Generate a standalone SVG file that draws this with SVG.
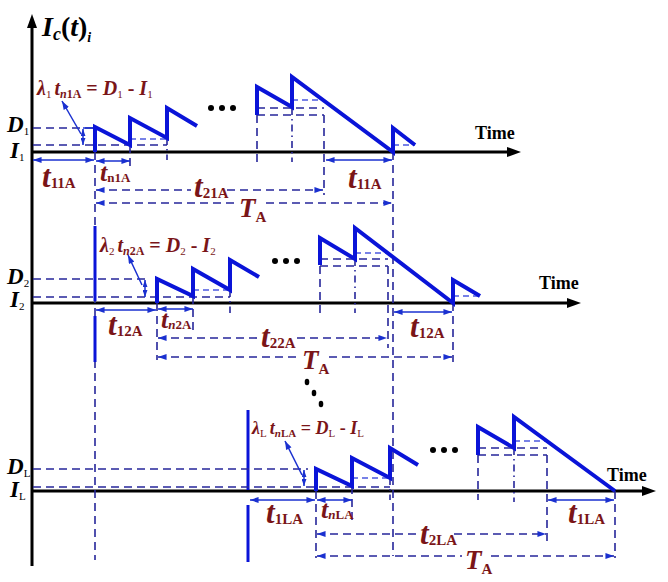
<svg xmlns="http://www.w3.org/2000/svg" width="668" height="582" viewBox="0 0 668 582">
<defs>
<style>
.ax{stroke:#000;stroke-width:3;fill:none}
.w{stroke:#0a14d8;stroke-width:4;fill:none;stroke-linejoin:miter}
.d{stroke:#26269a;stroke-width:1.6;stroke-dasharray:8 5;fill:none}
.dl{stroke:#4c5ae0;stroke-width:1.4;stroke-dasharray:6 4;fill:none}
.dd{stroke:#26269a;stroke-width:1.6;stroke-dasharray:7 4 1.5 4;fill:none}
.m{stroke:#1a30d0;stroke-width:1.5;fill:none}
.bar{stroke:#0a14d8;stroke-width:3;fill:none}
text{font-family:"Liberation Serif","Times New Roman",serif;font-weight:bold}
.r{fill:#7a1518}
.k{fill:#000}
.bi{font-style:italic}
.big{font-size:31px;font-style:italic}
.bigT{font-size:27px;font-style:italic}
.sb{font-size:15px;font-style:normal}
.mid{font-size:26px;font-style:italic}
.lab{font-size:23px;font-style:italic}
.sm{font-size:13px;font-style:normal}
.eq{font-size:20px}
.eqs{font-size:11px;font-weight:normal;font-style:normal}
.eqs2{font-size:12px;font-style:normal}
.time{font-size:18px}
.dot{fill:#000}
</style>
<marker id="ah" viewBox="0 0 10 7" refX="10" refY="3.5" markerWidth="9" markerHeight="6" markerUnits="userSpaceOnUse" orient="auto-start-reverse"><path d="M0,0 L10,3.5 L0,7 z" fill="#1a30d0"/></marker>
<marker id="sh" viewBox="0 0 10 7" refX="10" refY="3.5" markerWidth="7" markerHeight="5" markerUnits="userSpaceOnUse" orient="auto-start-reverse"><path d="M0,0 L10,3.5 L0,7 z" fill="#1a30d0"/></marker>
<marker id="axh" viewBox="0 0 14 10" refX="1" refY="5" markerWidth="15" markerHeight="10" markerUnits="userSpaceOnUse" orient="auto"><path d="M0,0 L14,5 L0,10 z" fill="#000"/></marker>
</defs>
<rect width="668" height="582" fill="#fff"/>

<g id="axes">
<line class="ax" x1="32" y1="566" x2="32" y2="27" marker-end="url(#axh)"/>
<line class="ax" x1="32" y1="152" x2="508" y2="152" marker-end="url(#axh)"/>
<line class="ax" x1="32" y1="303" x2="568" y2="303" marker-end="url(#axh)"/>
<line class="ax" x1="32" y1="491" x2="643" y2="491" marker-end="url(#axh)"/>
<text class="k" x="42" y="36" font-size="28" font-style="italic">I<tspan font-size="18" dy="4">c</tspan><tspan dy="-4" font-style="normal">(</tspan>t<tspan font-style="normal">)</tspan><tspan font-size="14" dy="6">i</tspan></text>
<text class="k time" x="475" y="139">Time</text>
<text class="k time" x="539" y="289">Time</text>
<text class="k time" x="607" y="481">Time</text>
</g>

<g id="connectors">
<line class="d" x1="95" y1="152" x2="95" y2="560"/>
<line class="d" x1="393" y1="152" x2="393" y2="556"/>
<line class="bar" x1="95" y1="226" x2="95" y2="301"/>
<line class="bar" x1="95" y1="316" x2="95" y2="362"/>
<line class="bar" x1="248" y1="410" x2="248" y2="490"/>
<line class="bar" x1="248" y1="505" x2="248" y2="562"/>
</g>

<g id="section1">
<line class="d" x1="33" y1="128" x2="93" y2="128"/>
<line class="d" x1="33" y1="145" x2="167" y2="145"/>
<line class="dl" x1="130" y1="139" x2="167" y2="139"/>
<line class="d" x1="130" y1="145" x2="130" y2="166"/>
<line class="dd" x1="167" y1="138" x2="167" y2="160"/>
<line class="d" x1="257" y1="108" x2="324" y2="108"/>
<line class="d" x1="257" y1="115" x2="324" y2="115"/>
<line class="dl" x1="292" y1="100" x2="324" y2="100"/>
<line class="d" x1="257" y1="115" x2="257" y2="162"/>
<line class="dd" x1="292" y1="108" x2="292" y2="162"/>
<line class="d" x1="324" y1="115" x2="324" y2="195"/>
<line class="dl" x1="393" y1="145" x2="415" y2="145"/>
<path class="w" d="M95,152 V127 L130,145 V118 L167,138 V108 L197,126"/>
<path class="w" d="M257,115 V87 L292,107 V77 L393,152 V128 L415,145"/>
<line class="m" x1="83" y1="129" x2="83" y2="145" marker-start="url(#sh)" marker-end="url(#sh)"/>
<line class="m" x1="83" y1="128" x2="93" y2="128"/>
<line class="m" x1="81" y1="134" x2="62" y2="101" marker-end="url(#ah)"/>
<circle class="dot" cx="211" cy="108" r="3"/><circle class="dot" cx="222" cy="108" r="3"/><circle class="dot" cx="233" cy="108" r="3"/>
<line class="m" x1="33" y1="160" x2="94" y2="160" marker-start="url(#ah)" marker-end="url(#ah)"/>
<line class="m" x1="96" y1="161" x2="130" y2="161" marker-start="url(#ah)" marker-end="url(#ah)"/>
<line class="d" x1="96" y1="190" x2="191" y2="190" marker-start="url(#ah)"/>
<line class="d" x1="227" y1="190" x2="323" y2="190" marker-end="url(#ah)"/>
<line class="d" x1="96" y1="203" x2="236" y2="203" marker-start="url(#ah)"/>
<line class="d" x1="266" y1="203" x2="392" y2="203" marker-end="url(#ah)"/>
<line class="m" x1="326" y1="160" x2="392" y2="160" marker-start="url(#ah)" marker-end="url(#ah)"/>
<text class="k lab" x="7" y="132">D<tspan class="eqs" font-size="12" dy="3">1</tspan></text>
<text class="k lab" x="10" y="158">I<tspan class="eqs" font-size="12" dy="3">1</tspan></text>
<text class="r eq" x="37" y="95"><tspan class="bi">λ</tspan><tspan class="eqs" dy="3">1</tspan><tspan class="bi" dy="-3" dx="3">t</tspan><tspan class="eqs2" dy="3"><tspan font-style="italic">n</tspan>1A</tspan><tspan dy="-3"> = </tspan><tspan class="bi">D</tspan><tspan class="eqs" dy="3">1</tspan><tspan dy="-3"> - </tspan><tspan class="bi">I</tspan><tspan class="eqs" dy="3">1</tspan></text>
<text class="r" x="42" y="187"><tspan class="big">t</tspan><tspan class="sb" dy="1">11A</tspan></text>
<text class="r" x="100" y="181"><tspan class="mid">t</tspan><tspan class="sm" dy="1">n1A</tspan></text>
<text class="r" x="194" y="197"><tspan class="big">t</tspan><tspan class="sb" dy="1">21A</tspan></text>
<text class="r" x="239" y="217"><tspan class="bigT">T</tspan><tspan class="sb" dy="5">A</tspan></text>
<text class="r" x="348" y="188"><tspan class="big">t</tspan><tspan class="sb" dy="1">11A</tspan></text>
</g>

<g id="section2">
<line class="d" x1="33" y1="279" x2="147" y2="279"/>
<line class="d" x1="33" y1="297" x2="230" y2="297"/>
<line class="dl" x1="193" y1="290" x2="230" y2="290"/>
<line class="d" x1="193" y1="296" x2="193" y2="332"/>
<line class="dd" x1="230" y1="290" x2="230" y2="313"/>
<line class="d" x1="157" y1="303" x2="157" y2="360"/>
<line class="d" x1="320" y1="259" x2="388" y2="259"/>
<line class="d" x1="320" y1="266" x2="388" y2="266"/>
<line class="dl" x1="355" y1="253" x2="388" y2="253"/>
<line class="d" x1="320" y1="266" x2="320" y2="313"/>
<line class="dd" x1="355" y1="259" x2="355" y2="313"/>
<line class="d" x1="388" y1="266" x2="388" y2="348"/>
<line class="d" x1="453" y1="303" x2="453" y2="362"/>
<line class="dl" x1="453" y1="296" x2="480" y2="296"/>
<path class="w" d="M157,303 V279 L193,296 V269 L230,290 V260 L259,277"/>
<path class="w" d="M320,265 V238 L355,259 V228 L453,303 V280 L480,296"/>
<line class="m" x1="145" y1="280" x2="145" y2="297" marker-start="url(#sh)" marker-end="url(#sh)"/>
<line class="m" x1="142" y1="285" x2="128" y2="255" marker-end="url(#ah)"/>
<circle class="dot" cx="275" cy="261" r="3"/><circle class="dot" cx="286" cy="261" r="3"/><circle class="dot" cx="297" cy="261" r="3"/>
<line class="m" x1="96" y1="310" x2="156" y2="310" marker-start="url(#ah)" marker-end="url(#ah)"/>
<line class="m" x1="158" y1="309" x2="193" y2="309" marker-start="url(#ah)" marker-end="url(#ah)"/>
<line class="d" x1="158" y1="338" x2="258" y2="338" marker-start="url(#ah)"/>
<line class="d" x1="297" y1="338" x2="387" y2="338" marker-end="url(#ah)"/>
<line class="d" x1="158" y1="357" x2="299" y2="357" marker-start="url(#ah)"/>
<line class="d" x1="329" y1="357" x2="452" y2="357" marker-end="url(#ah)"/>
<line class="m" x1="394" y1="312" x2="452" y2="312" marker-start="url(#ah)" marker-end="url(#ah)"/>
<text class="k lab" x="7" y="284">D<tspan class="eqs" font-size="12" dy="3">2</tspan></text>
<text class="k lab" x="10" y="307">I<tspan class="eqs" font-size="12" dy="3">2</tspan></text>
<text class="r eq" x="100" y="252"><tspan class="bi">λ</tspan><tspan class="eqs" dy="3">2</tspan><tspan class="bi" dy="-3" dx="3">t</tspan><tspan class="eqs2" dy="3"><tspan font-style="italic">n</tspan>2A</tspan><tspan dy="-3"> = </tspan><tspan class="bi">D</tspan><tspan class="eqs" dy="3">2</tspan><tspan dy="-3"> - </tspan><tspan class="bi">I</tspan><tspan class="eqs" dy="3">2</tspan></text>
<text class="r" x="108" y="335"><tspan class="big">t</tspan><tspan class="sb" dy="1">12A</tspan></text>
<text class="r" x="161" y="328"><tspan class="mid">t</tspan><tspan class="sm" dy="1"><tspan font-style="italic">n</tspan>2A</tspan></text>
<text class="r" x="261" y="347"><tspan class="big">t</tspan><tspan class="sb" dy="1">22A</tspan></text>
<text class="r" x="302" y="369"><tspan class="bigT">T</tspan><tspan class="sb" dy="5">A</tspan></text>
<text class="r" x="410" y="337"><tspan class="big">t</tspan><tspan class="sb" dy="1">12A</tspan></text>
<ellipse class="dot" cx="307" cy="382" rx="2.3" ry="3.2"/>
<ellipse class="dot" cx="314" cy="393" rx="2.3" ry="3.2"/>
<ellipse class="dot" cx="321" cy="404" rx="2.3" ry="3.2"/>
</g>

<g id="section3">
<line class="d" x1="33" y1="469" x2="308" y2="469"/>
<line class="d" x1="33" y1="487" x2="390" y2="487"/>
<line class="dl" x1="352" y1="478" x2="390" y2="478"/>
<line class="d" x1="352" y1="486" x2="352" y2="520"/>
<line class="dd" x1="390" y1="478" x2="390" y2="500"/>
<line class="d" x1="316" y1="491" x2="316" y2="558"/>
<line class="d" x1="478" y1="448" x2="547" y2="448"/>
<line class="d" x1="478" y1="455" x2="547" y2="455"/>
<line class="dl" x1="514" y1="441" x2="547" y2="441"/>
<line class="d" x1="478" y1="455" x2="478" y2="500"/>
<line class="dd" x1="514" y1="448" x2="514" y2="502"/>
<line class="d" x1="547" y1="455" x2="547" y2="545"/>
<line class="d" x1="615" y1="491" x2="615" y2="558"/>
<path class="w" d="M316,491 V469 L352,486 V458 L390,478 V448 L418,465"/>
<path class="w" d="M478,455 V427 L514,448 V417 L615,491"/>
<line class="m" x1="304" y1="470" x2="304" y2="486" marker-start="url(#sh)" marker-end="url(#sh)"/>
<line class="m" x1="302" y1="475" x2="285" y2="441" marker-end="url(#ah)"/>
<circle class="dot" cx="433" cy="450" r="3"/><circle class="dot" cx="444" cy="450" r="3"/><circle class="dot" cx="455" cy="450" r="3"/>
<line class="m" x1="250" y1="500" x2="315" y2="500" marker-start="url(#ah)" marker-end="url(#ah)"/>
<line class="m" x1="317" y1="500" x2="352" y2="500" marker-start="url(#ah)" marker-end="url(#ah)"/>
<line class="d" x1="317" y1="534" x2="416" y2="534" marker-start="url(#ah)"/>
<line class="d" x1="454" y1="534" x2="546" y2="534" marker-end="url(#ah)"/>
<line class="d" x1="317" y1="556" x2="462" y2="556" marker-start="url(#ah)"/>
<line class="d" x1="491" y1="556" x2="614" y2="556" marker-end="url(#ah)"/>
<line class="m" x1="548" y1="500" x2="614" y2="500" marker-start="url(#ah)" marker-end="url(#ah)"/>
<text class="k lab" x="7" y="474">D<tspan class="eqs" font-size="12" dy="3">L</tspan></text>
<text class="k lab" x="10" y="497">I<tspan class="eqs" font-size="12" dy="3">L</tspan></text>
<text class="r" x="252" y="434" font-size="18"><tspan class="bi">λ</tspan><tspan class="eqs" font-size="10" dy="3">L</tspan><tspan class="bi" dy="-3" dx="3">t</tspan><tspan font-size="11" font-style="normal" dy="3"><tspan font-style="italic">n</tspan>LA</tspan><tspan dy="-3"> = </tspan><tspan class="bi">D</tspan><tspan class="eqs" font-size="10" dy="3">L</tspan><tspan dy="-3"> - </tspan><tspan class="bi">I</tspan><tspan class="eqs" font-size="10" dy="3">L</tspan></text>
<text class="r" x="266" y="523"><tspan class="big">t</tspan><tspan class="sb" dy="1">1LA</tspan></text>
<text class="r" x="321" y="518"><tspan class="mid">t</tspan><tspan class="sm" dy="1"><tspan font-style="italic">n</tspan>LA</tspan></text>
<text class="r" x="420" y="544"><tspan class="big">t</tspan><tspan class="sb" dy="1">2LA</tspan></text>
<text class="r" x="465" y="569"><tspan class="bigT">T</tspan><tspan class="sb" dy="5">A</tspan></text>
<text class="r" x="568" y="523"><tspan class="big">t</tspan><tspan class="sb" dy="1">1LA</tspan></text>
</g>
</svg>
